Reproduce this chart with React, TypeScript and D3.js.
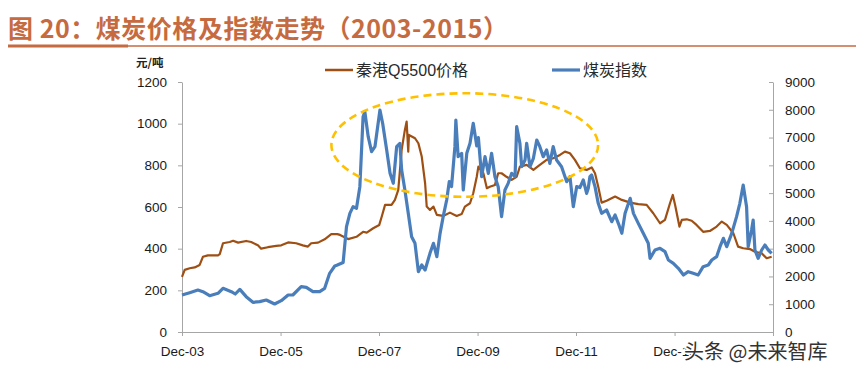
import React, { useEffect, useRef } from 'react';
import * as d3 from 'd3';

// 秦港Q5500价格 (元/吨), left axis
const priceDates = [
  '2003-12-01', '2003-12-21', '2004-01-27', '2004-03-04', '2004-04-10', '2004-05-04', '2004-06-10', '2004-08-24',
  '2004-09-06', '2004-09-30', '2004-11-19', '2004-12-14', '2005-01-20', '2005-03-21', '2005-04-27', '2005-06-16',
  '2005-07-10', '2005-08-29', '2005-10-30', '2005-12-06', '2006-01-26', '2006-03-27', '2006-05-15', '2006-06-22',
  '2006-07-16', '2006-09-05', '2006-10-24', '2006-12-12', '2007-01-26', '2007-02-15', '2007-04-16', '2007-06-17',
  '2007-08-05', '2007-09-01', '2007-10-19', '2007-12-03', '2007-12-21', '2008-01-15', '2008-03-03', '2008-03-28',
  '2008-04-22', '2008-05-17', '2008-06-10', '2008-06-23', '2008-07-05', '2008-07-10', '2008-08-24', '2008-09-18',
  '2008-10-13', '2008-11-07', '2008-11-19', '2008-12-13', '2009-01-08', '2009-02-02', '2009-03-21', '2009-05-10',
  '2009-06-29', '2009-08-05', '2009-08-29', '2009-10-06', '2009-10-30', '2009-11-25', '2009-12-07', '2010-01-13',
  '2010-02-08', '2010-03-02', '2010-04-09', '2010-05-03', '2010-05-28', '2010-07-04', '2010-08-11', '2010-09-17',
  '2010-10-11', '2010-11-30', '2011-01-19', '2011-03-08', '2011-04-27', '2011-06-15', '2011-08-04', '2011-09-10',
  '2011-10-17', '2011-11-23', '2011-12-30', '2012-02-18', '2012-03-26', '2012-04-20', '2012-05-14', '2012-06-08',
  '2012-07-15', '2012-09-16', '2012-11-05', '2013-01-06', '2013-03-07', '2013-05-08', '2013-06-26', '2013-08-15',
  '2013-09-21', '2013-10-28', '2013-11-18', '2013-12-05', '2014-01-06', '2014-01-24', '2014-03-01', '2014-04-07',
  '2014-05-13', '2014-07-01', '2014-08-20', '2014-10-09', '2014-11-16', '2014-12-23', '2015-02-10', '2015-03-17',
  '2015-04-24', '2015-06-13', '2015-07-20', '2015-09-08', '2015-10-15', '2015-11-21'
];
const priceValues = [
  265, 298, 306, 310, 322, 361, 368, 368,
  374, 426, 432, 438, 429, 437, 432, 416,
  400, 407, 413, 416, 430, 426, 416, 410,
  426, 429, 445, 470, 470, 466, 446, 457,
  481, 477, 498, 514, 553, 610, 610, 634,
  682, 874, 970, 1010, 866, 946, 930, 906,
  842, 714, 602, 586, 602, 562, 557, 573,
  557, 566, 602, 618, 666, 745, 794, 762,
  690, 697, 706, 762, 762, 745, 730, 745,
  794, 802, 778, 802, 826, 834, 850, 866,
  858, 826, 786, 778, 790, 762, 697, 621,
  630, 650, 634, 621, 614, 610, 570, 522,
  538, 618, 658, 610, 506, 538, 541, 534,
  514, 481, 485, 506, 530, 514, 474, 410,
  402, 398, 385, 378, 354, 361
];

// 煤炭指数, right axis
const indexDates = [
  '2003-12-01', '2004-01-27', '2004-03-28', '2004-05-04', '2004-06-23', '2004-08-24', '2004-09-30', '2004-12-01',
  '2004-12-30', '2005-02-02', '2005-03-21', '2005-05-10', '2005-06-29', '2005-08-17', '2005-10-18', '2005-12-06',
  '2006-01-26', '2006-03-02', '2006-05-03', '2006-06-10', '2006-07-29', '2006-09-17', '2006-10-24', '2006-11-30',
  '2007-01-07', '2007-01-22', '2007-03-10', '2007-04-04', '2007-04-29', '2007-05-23', '2007-06-17', '2007-07-12',
  '2007-08-05', '2007-08-18', '2007-09-12', '2007-10-07', '2007-11-01', '2007-12-08', '2007-12-28', '2008-01-27',
  '2008-02-21', '2008-03-16', '2008-04-10', '2008-05-04', '2008-05-17', '2008-06-10', '2008-07-05', '2008-07-30',
  '2008-08-24', '2008-09-18', '2008-10-13', '2008-11-07', '2008-12-13', '2009-01-08', '2009-02-02', '2009-02-26',
  '2009-03-21', '2009-04-16', '2009-05-05', '2009-05-22', '2009-06-16', '2009-06-23', '2009-07-10', '2009-08-05',
  '2009-08-17', '2009-09-12', '2009-10-06', '2009-10-30', '2009-11-25', '2009-12-07', '2009-12-31', '2010-01-25',
  '2010-02-19', '2010-03-15', '2010-04-09', '2010-05-03', '2010-05-28', '2010-06-22', '2010-07-16', '2010-08-11',
  '2010-09-05', '2010-09-17', '2010-10-11', '2010-10-24', '2010-11-18', '2010-11-30', '2010-12-25', '2011-01-19',
  '2011-02-13', '2011-03-08', '2011-04-02', '2011-04-27', '2011-05-21', '2011-06-15', '2011-07-10', '2011-08-16',
  '2011-09-23', '2011-10-17', '2011-11-11', '2011-12-06', '2011-12-30', '2012-01-24', '2012-02-18', '2012-03-01',
  '2012-03-13', '2012-03-26', '2012-04-20', '2012-05-14', '2012-06-08', '2012-07-15', '2012-08-22', '2012-09-16',
  '2012-10-10', '2012-11-05', '2012-11-29', '2013-01-06', '2013-01-30', '2013-03-07', '2013-04-13', '2013-05-20',
  '2013-06-02', '2013-07-09', '2013-08-15', '2013-09-21', '2013-10-16', '2013-11-22', '2013-12-29', '2014-02-05',
  '2014-03-12', '2014-04-18', '2014-05-25', '2014-07-01', '2014-08-08', '2014-09-03', '2014-10-09', '2014-11-03',
  '2014-11-28', '2014-12-23', '2015-01-29', '2015-03-06', '2015-03-30', '2015-04-24', '2015-05-19', '2015-05-31',
  '2015-06-25', '2015-07-07', '2015-07-20', '2015-08-13', '2015-09-08', '2015-10-02', '2015-10-27', '2015-11-21'
];
const indexValues = [
  1332, 1416, 1512, 1452, 1308, 1392, 1572, 1452,
  1368, 1536, 1272, 1068, 1092, 1152, 1008, 1128,
  1332, 1332, 1632, 1608, 1452, 1452, 1572, 2112,
  2376, 2400, 2500, 3792, 4272, 4512, 4452, 5232,
  7752, 7932, 7032, 6492, 6672, 7992, 7512, 6552,
  5712, 5352, 6672, 6792, 5832, 5112, 4272, 3432,
  3192, 2172, 2412, 2232, 2832, 3192, 2712, 3552,
  4152, 4752, 5412, 5232, 6672, 7632, 6312, 6432,
  5112, 6432, 6792, 7512, 6700, 7000, 5592, 6312,
  5712, 6432, 5592, 5232, 4152, 5112, 5352, 5712,
  5592, 7392, 6792, 5952, 6192, 6792, 5952, 6252,
  6912, 6672, 6312, 6552, 6072, 6672, 6192, 5952,
  5412, 5592, 4512, 5232, 5200, 5472, 4992, 5172,
  5592, 5652, 5232, 4632, 4272, 4392, 3972, 4212,
  3912, 3552, 4272, 4812, 4272, 3912, 3552, 3192,
  2652, 2952, 3012, 2892, 2592, 2472, 2292, 2052,
  2172, 2112, 2052, 2352, 2412, 2592, 2712, 3072,
  3372, 3072, 3552, 4152, 4632, 5292, 4512, 3072,
  3672, 4032, 2952, 2652, 2952, 3132, 2952, 2832
];

const leftTicks = [0, 200, 400, 600, 800, 1000, 1200];
const rightTicks = [0, 1000, 2000, 3000, 4000, 5000, 6000, 7000, 8000, 9000];
const xTickDates = ['2003-12-01', '2005-12-01', '2007-12-01', '2009-12-01', '2011-12-01', '2013-12-01', '2015-12-01'];
const xTickLabels = ['Dec-03', 'Dec-05', 'Dec-07', 'Dec-09', 'Dec-11', 'Dec-13', ''];

// dashed highlight ellipse, in data terms (date span, 元/吨 span)
const highlightDates = ['2006-12-13', '2012-05-13'];
const highlightValues = [649, 1146];

const W = 856;
const H = 374;
const plot = { left: 182, right: 773, top: 82, bottom: 332 };
const brown = '#9E4F14';
const blue = '#4A7EBB';
const axisGrey = '#A6A6A6';
const cjk = '"Noto Sans CJK SC", sans-serif';
const latin = '"Liberation Sans", "Noto Sans CJK SC", sans-serif';

export default function App() {
  const ref = useRef<SVGSVGElement>(null);

  useEffect(() => {
    const svg = d3.select(ref.current);
    svg.selectAll('*').remove();
    const parse = d3.timeParse('%Y-%m-%d');

    const x = d3.scaleTime()
      .domain([parse('2003-12-01') as Date, parse('2015-12-01') as Date])
      .range([plot.left, plot.right]);
    const yL = d3.scaleLinear().domain([0, 1200]).range([plot.bottom, plot.top]);
    const yR = d3.scaleLinear().domain([0, 9000]).range([plot.bottom, plot.top]);

    // title
    svg.append('text')
      .attr('x', 8).attr('y', 38)
      .attr('font-family', cjk).attr('font-weight', 700).attr('font-size', 25)
      .attr('textLength', 500).attr('lengthAdjust', 'spacing')
      .attr('fill', '#C66A40')
      .text('图 20：煤炭价格及指数走势（2003-2015）');
    svg.append('line').attr('x1', 8).attr('x2', W).attr('y1', 46).attr('y2', 46)
      .attr('stroke', '#C66A40').attr('stroke-width', 1.3);
    svg.append('line').attr('x1', 8).attr('x2', 128).attr('y1', 46).attr('y2', 46)
      .attr('stroke', '#C66A40').attr('stroke-width', 3);

    // unit
    svg.append('text').attr('x', 136).attr('y', 67)
      .attr('font-family', cjk).attr('font-weight', 700).attr('font-size', 11.5).attr('fill', '#222')
      .text('元/吨');

    const styleAxis = (g: any) => {
      g.select('.domain').attr('stroke', axisGrey);
      g.selectAll('.tick line').attr('stroke', axisGrey);
      g.selectAll('.tick text').attr('fill', '#1a1a1a').attr('font-family', latin).attr('font-size', 13.5);
    };

    svg.append('g')
      .attr('transform', `translate(${plot.left},0)`)
      .call(d3.axisLeft(yL).tickValues(leftTicks).tickFormat(d3.format('d'))
        .tickSizeInner(4).tickSizeOuter(0).tickPadding(11))
      .call(styleAxis);

    svg.append('g')
      .attr('transform', `translate(${plot.right},0)`)
      .call(d3.axisRight(yR).tickValues(rightTicks).tickFormat(d3.format('d'))
        .tickSizeInner(-4).tickSizeOuter(0).tickPadding(12))
      .call(styleAxis);

    svg.append('g')
      .attr('transform', `translate(0,${plot.bottom})`)
      .call(d3.axisBottom(x)
        .tickValues(xTickDates.map(d => parse(d) as Date))
        .tickFormat((_d, i) => xTickLabels[i])
        .tickSizeInner(4).tickSizeOuter(0).tickPadding(10))
      .call(styleAxis);

    // series
    const priceData = priceDates.map((d, i) => ({ date: parse(d) as Date, value: priceValues[i] }));
    const indexData = indexDates.map((d, i) => ({ date: parse(d) as Date, value: indexValues[i] }));

    const priceLine = d3.line<{ date: Date; value: number }>()
      .x(d => x(d.date)).y(d => yL(d.value));
    const indexLine = d3.line<{ date: Date; value: number }>()
      .x(d => x(d.date)).y(d => yR(d.value));

    svg.append('path').datum(priceData)
      .attr('d', priceLine).attr('fill', 'none')
      .attr('stroke', brown).attr('stroke-width', 2.2).attr('stroke-linejoin', 'round');
    svg.append('path').datum(indexData)
      .attr('d', indexLine).attr('fill', 'none')
      .attr('stroke', blue).attr('stroke-width', 3.2).attr('stroke-linejoin', 'round');

    // highlight ellipse
    const ex0 = x(parse(highlightDates[0]) as Date);
    const ex1 = x(parse(highlightDates[1]) as Date);
    const ey0 = yL(highlightValues[1]);
    const ey1 = yL(highlightValues[0]);
    svg.append('ellipse')
      .attr('cx', (ex0 + ex1) / 2).attr('cy', (ey0 + ey1) / 2)
      .attr('rx', (ex1 - ex0) / 2).attr('ry', (ey1 - ey0) / 2)
      .attr('fill', 'none').attr('stroke', '#FFC000').attr('stroke-width', 2.6)
      .attr('stroke-dasharray', '8 5');

    // legend
    const legend = [
      { label: '秦港Q5500价格', color: brown, x: 325, w: 2.5 },
      { label: '煤炭指数', color: blue, x: 552, w: 3.2 },
    ];
    const lg = svg.append('g');
    legend.forEach(l => {
      lg.append('line').attr('x1', l.x).attr('x2', l.x + 28).attr('y1', 70).attr('y2', 70)
        .attr('stroke', l.color).attr('stroke-width', l.w);
      lg.append('text').attr('x', l.x + 31).attr('y', 76)
        .attr('font-family', latin).attr('font-size', 16).attr('fill', '#2a2a2a')
        .text(l.label);
    });

    // watermark
    svg.append('text').attr('x', 684).attr('y', 359)
      .attr('font-family', cjk).attr('font-size', 20).attr('fill', '#333')
      .attr('stroke', '#fff').attr('stroke-width', 3).attr('paint-order', 'stroke')
      .text('头条 @未来智库');
  }, []);

  return (
    <svg ref={ref} width={W} height={H}
      style={{ position: 'absolute', left: 0, top: 0, background: '#fff' }} />
  );
}
